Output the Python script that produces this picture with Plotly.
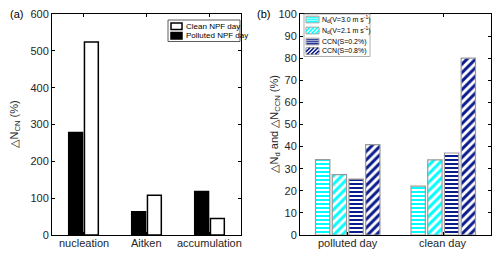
import plotly.graph_objects as go

# Panel (a) data
modes = ["nucleation", "Aitken", "accumulation"]
polluted_npf = [278, 63, 118]
clean_npf = [524, 108, 45]

# Panel (b) data
days = ["polluted day", "clean day"]
nd_v30 = [34.1, 22.1]
nd_v21 = [27.3, 34.0]
ccn_s02 = [25.3, 37.1]
ccn_s08 = [40.9, 80.0]

CYAN = "#00FFFF"
NAVY = "#0b1c8c"
GREY = "#9a9a9a"
FONT = "Liberation Sans, Arial, sans-serif"
TXT = "#262626"

# The page body adds an 8 px margin, so the figure is drawn 8 px in from the corner.
OFF = 8
W, H = 500 - OFF, 256 - OFF
PLOT_TOP, PLOT_BOT = 14, 235          # in window pixels
MT = PLOT_TOP - OFF
MB = H - (PLOT_BOT - OFF)
PH = H - MT - MB


def px_x(px):
    return (px - OFF) / W


def px_y(py):
    return (PLOT_BOT - py) / PH


fig = go.Figure()

# Panel (a)
fig.add_trace(go.Bar(x=modes, y=polluted_npf, name="Polluted NPF day",
                     marker=dict(color="black", line=dict(color="black", width=1.5)),
                     xaxis="x", yaxis="y", showlegend=False))
fig.add_trace(go.Bar(x=modes, y=clean_npf, name="Clean NPF day",
                     marker=dict(color="white", line=dict(color="black", width=1.5)),
                     xaxis="x", yaxis="y", showlegend=False))

# Panel (b)
series_b = [
    (nd_v30, "N<sub>d</sub>(V=3.0 m s<sup>-1</sup>)", CYAN, "-"),
    (nd_v21, "N<sub>d</sub>(V=2.1 m s<sup>-1</sup>)", CYAN, "/"),
    (ccn_s02, "CCN(S=0.2%)", NAVY, "-"),
    (ccn_s08, "CCN(S=0.8%)", NAVY, "/"),
]
offs = [-0.35, -0.175, 0.0, 0.175]
for (vals, name, color, shape), o in zip(series_b, offs):
    fig.add_trace(go.Bar(
        x=days, y=vals, name=name, width=0.15, offset=o + 0.0125,
        marker=dict(color="white", line=dict(color=GREY, width=1.2),
                    pattern=dict(shape=shape, fgcolor=color, bgcolor="white",
                                 size=4 if shape == "-" else 6, solidity=0.5,
                                 fillmode="replace")),
        xaxis="x2", yaxis="y2", showlegend=False))

axis_common = dict(showline=True, linecolor="black", linewidth=1, mirror="ticks",
                   ticks="inside", ticklen=3, tickcolor="black", showgrid=False,
                   zeroline=False, ticklabeloverflow="allow",
                   tickfont=dict(family=FONT, size=11, color=TXT))

fig.update_layout(
    width=W, height=H,
    margin=dict(l=0, r=0, t=MT, b=MB),
    paper_bgcolor="white", plot_bgcolor="white",
    barmode="group", bargap=0.5, bargroupgap=0.12,
    showlegend=False,
    font=dict(family=FONT, color=TXT),
    xaxis=dict(domain=[px_x(52), px_x(241)], range=[-0.5, 2.5], anchor="y",
               showticklabels=False, **axis_common),
    yaxis=dict(domain=[0, 1], range=[0, 600], dtick=100, anchor="x", **axis_common),
    xaxis2=dict(domain=[px_x(300), px_x(491)], range=[-0.5, 1.5], anchor="y2",
                showticklabels=False, **axis_common),
    yaxis2=dict(domain=[0, 1], range=[0, 100], dtick=10, anchor="x2", **axis_common),
)

# Category labels through the category axes
for m in modes:
    fig.add_annotation(text=m, x=m, xref="x", y=px_y(243), yref="paper",
                       showarrow=False, xanchor="center", yanchor="middle",
                       font=dict(family=FONT, size=11, color=TXT))
for d in days:
    fig.add_annotation(text=d, x=d, xref="x2", y=px_y(243), yref="paper",
                       showarrow=False, xanchor="center", yanchor="middle",
                       font=dict(family=FONT, size=11, color=TXT))

# Panel labels and axis titles
fig.add_annotation(text="(a)", x=px_x(8), y=px_y(14), xref="paper", yref="paper",
                   xanchor="left", yanchor="middle", showarrow=False,
                   font=dict(family=FONT, size=11, color="black"))
fig.add_annotation(text="(b)", x=px_x(255), y=px_y(14), xref="paper", yref="paper",
                   xanchor="left", yanchor="middle", showarrow=False,
                   font=dict(family=FONT, size=11, color="black"))
fig.add_annotation(text="\u25b3N<sub>CN</sub> (%)", x=px_x(14), y=0.5, xref="paper",
                   yref="paper", textangle=-90, showarrow=False,
                   xanchor="center", yanchor="middle",
                   font=dict(family=FONT, size=11, color=TXT))
fig.add_annotation(text="\u25b3N<sub>d</sub> and \u25b3N<sub>CCN</sub> (%)", x=px_x(274),
                   y=0.5, xref="paper", yref="paper", textangle=-90, showarrow=False,
                   xanchor="center", yanchor="middle",
                   font=dict(family=FONT, size=11, color=TXT))

shapes = []


def rect(x0, y0, x1, y1, fill, line, lw=1):
    shapes.append(dict(type="rect", xref="paper", yref="paper",
                       x0=px_x(x0), x1=px_x(x1), y0=px_y(y0), y1=px_y(y1),
                       fillcolor=fill, line=dict(color=line, width=lw), layer="above"))


def seg(x0, y0, x1, y1, color, lw):
    shapes.append(dict(type="line", xref="paper", yref="paper",
                       x0=px_x(x0), x1=px_x(x1), y0=px_y(y0), y1=px_y(y1),
                       line=dict(color=color, width=lw), layer="above"))


# Legend (a)
rect(168, 20, 240, 41.5, "white", "#333333", 0.8)
rect(171, 23, 182, 29.5, "white", "black", 1.5)
rect(171, 32.5, 182, 39, "black", "black", 1.5)
leg_a = [("Clean NPF day", 26.3), ("Polluted NPF day", 35.8)]
for txt, yy in leg_a:
    fig.add_annotation(text=txt, x=px_x(183.5), y=px_y(yy), xref="paper", yref="paper",
                       xanchor="left", yanchor="middle", showarrow=False,
                       font=dict(family=FONT, size=8, color="black"))

# Legend (b)
rect(304, 14, 370, 56.5, "white", GREY, 0.8)
rows_b = [19.5, 30.5, 41.5, 51.0]
sx0, sx1 = 306, 319
for (vals, name, color, shape), yy in zip(series_b, rows_b):
    y0, y1 = yy - 3.3, yy + 3.3
    rect(sx0, y0, sx1, y1, "white", GREY, 1)
    if shape == "-":
        for ys in (yy - 1.7, yy + 0.3, yy + 2.2):
            seg(sx0 + 0.5, ys, sx1 - 0.5, ys, color, 1.2)
    else:
        period = 4.0
        c = sx0 - (y1 - y0)
        while c < sx1:
            xa, ya = c, y1
            xb, yb = c + (y1 - y0), y0
            if xa < sx0:
                ya = ya - (sx0 - xa)
                xa = sx0
            if xb > sx1:
                yb = yb + (xb - sx1)
                xb = sx1
            if xb > xa:
                seg(xa, ya, xb, yb, color, 1.6)
            c += period
    fig.add_annotation(text=name, x=px_x(320), y=px_y(yy), xref="paper", yref="paper",
                       xanchor="left", yanchor="middle", showarrow=False,
                       font=dict(family=FONT, size=7, color="black"))

fig.update_layout(shapes=shapes)

fig.write_html("out.html")
